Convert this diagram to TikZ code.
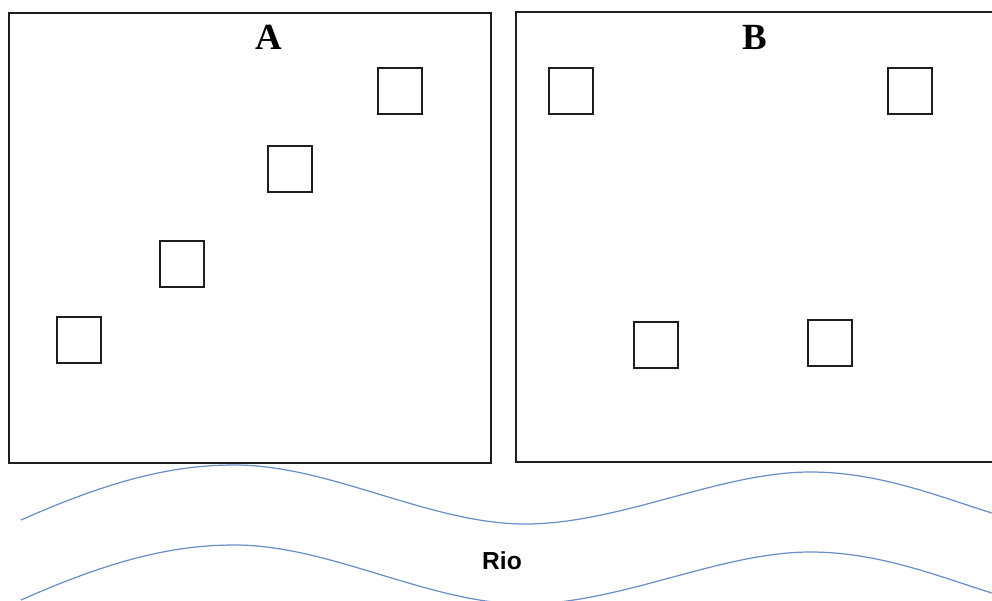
\documentclass[tikz,border=0pt]{standalone}
\usepackage{fontspec}
\setmainfont{Liberation Serif}
\setsansfont{Liberation Sans}
\usepackage{tikz}
\usetikzlibrary{positioning}
\definecolor{rioblue}{RGB}{108,142,199}
\definecolor{lotegray}{RGB}{30,30,30}

\begin{document}
\begin{tikzpicture}[
  x=0.02cm,y=-0.02cm,
  lote/.style={draw=lotegray,line width=1.1pt,minimum width=9.64cm,minimum height=9cm,inner sep=0pt},
  casa/.style={draw=lotegray,line width=0.75pt,minimum width=0.88cm,minimum height=0.92cm,inner sep=0pt},
  titulo/.style={font=\fontsize{21}{24}\selectfont\bfseries,inner sep=0pt},
  agua/.style={draw=rioblue,line width=0.7pt}
]
\clip (0,0) rectangle (992,600);

% LOTS
\node[lote] (loteA) at (250,238) {};
\node[lote] (loteB) at (757,237) {};
\node[titulo] (tA) at (269,37) {A};
\node[titulo] (tB) at (755,37) {B};

% HOUSES IN A
\node[casa] (a1) at (400,91) {};
\node[casa] (a2) at (290,169) {};
\node[casa] (a3) at (182,264) {};
\node[casa] (a4) at (79,340) {};

% HOUSES IN B
\node[casa] (b1) at (571,91) {};
\node[casa] (b2) at (910,91) {};
\node[casa] (b3) at (656,345) {};
\node[casa] (b4) at (830,343) {};

% RIVER
\draw[agua] (21,520) .. controls (120,476) and (180,465) .. (235,465)
  .. controls (330,465) and (430,524) .. (525,524)
  .. controls (620,524) and (720,472) .. (810,472)
  .. controls (880,472) and (940,497) .. (995,514);
\draw[agua] (21,600) .. controls (120,556) and (180,545) .. (235,545)
  .. controls (330,545) and (430,604) .. (525,604)
  .. controls (620,604) and (720,552) .. (810,552)
  .. controls (880,552) and (940,577) .. (995,594);
\node[font=\sffamily\bfseries\fontsize{14}{16}\selectfont,inner sep=0pt] (rio) at (502,561) {Rio};

\end{tikzpicture}
\end{document}
